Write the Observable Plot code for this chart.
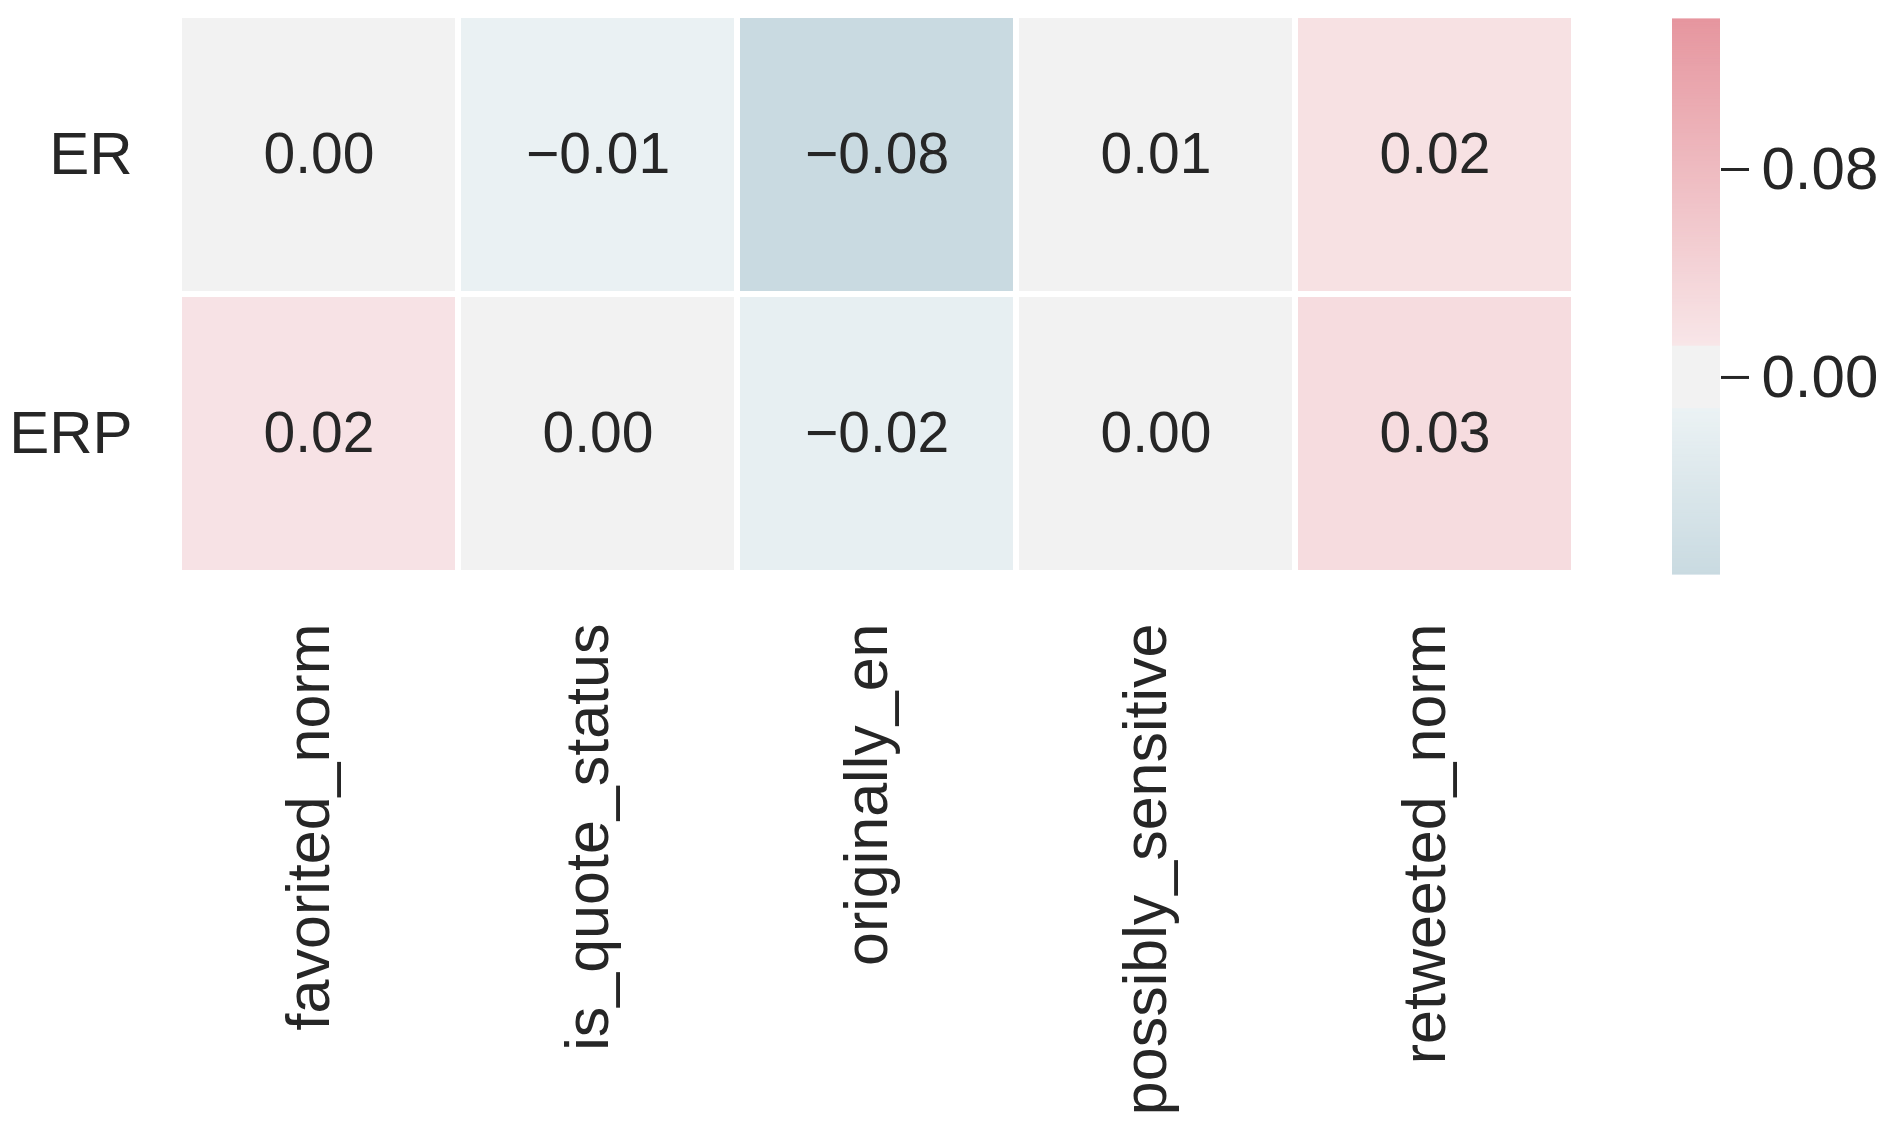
<!DOCTYPE html>
<html>
<head>
<meta charset="utf-8">
<script src="https://cdn.jsdelivr.net/npm/d3@7"></script>
<script src="https://cdn.jsdelivr.net/npm/@observablehq/plot@0.6"></script>
<style>
  html, body { margin: 0; padding: 0; background: #ffffff; }
  #wrap { position: relative; width: 1888px; height: 1131px; overflow: hidden; }
  #main, #cbar { position: absolute; top: 0; }
  #main { left: 0; }
  #cbar { left: 1672px; }
</style>
</head>
<body>
<div id="wrap"><div id="main"></div><div id="cbar"></div></div>
<script>
// ---- data ----
const rows = ["ER", "ERP"];
const columns = ["favorited_norm", "is_quote_status", "originally_en", "possibly_sensitive", "retweeted_norm"];
const erValues  = [0.001, -0.014, -0.076, 0.007, 0.020];
const erpValues = [0.018,  0.001, -0.020, 0.002, 0.028];
const colorbarTicks = [0.00, 0.08];
const colorDomain = [-0.0758, 0.1377];

const cells = [];
columns.forEach((c, i) => {
  cells.push({row: "ER", col: c, value: erValues[i]});
  cells.push({row: "ERP", col: c, value: erpValues[i]});
});

const fmt = d3.format(".2f");
const font = "'Liberation Sans', Arial, Helvetica, sans-serif";
const textColor = "#262626";

const colorScale = {
  type: "linear",
  domain: [colorDomain[0], -0.0121, -0.012, 0.012, 0.0121, colorDomain[1]],
  range: ["#c9dae1", "#ebf2f4", "#f2f2f2", "#f2f2f2", "#f8e6e8", "#e6969f"],
  interpolate: "rgb",
  clamp: true
};

const main = Plot.plot({
  width: 1888,
  height: 1131,
  marginLeft: 178,
  marginRight: 314,
  marginTop: 15,
  marginBottom: 558,
  style: {fontFamily: font, fontSize: "60px", color: textColor, background: "#ffffff"},
  x: {domain: columns, padding: 0, label: null},
  y: {domain: rows, padding: 0, label: null},
  color: colorScale,
  marks: [
    Plot.cell(cells, {x: "col", y: "row", fill: "value", inset: 3}),
    Plot.text(cells, {x: "col", y: "row", text: d => fmt(d.value), fill: textColor, fontSize: 57, fontFamily: font}),
    Plot.axisX({tickSize: 0, tickPadding: 50, tickRotate: -90, label: null, dx: -10, fontSize: 61}),
    Plot.axisY({tickSize: 0, tickPadding: 46, label: null, fontSize: 60})
  ]
});
document.getElementById("main").appendChild(main);

// ---- colorbar ----
const nBands = 240;
const step = (colorDomain[1] - colorDomain[0]) / nBands;
const bands = d3.range(nBands).map(i => ({
  y1: colorDomain[0] + i * step,
  y2: colorDomain[0] + (i + 1) * step,
  v: colorDomain[0] + (i + 0.5) * step
}));

const cbar = Plot.plot({
  width: 216,
  height: 600,
  marginLeft: 0,
  marginRight: 168,
  marginTop: 19,
  marginBottom: 26,
  style: {fontFamily: font, fontSize: "60px", color: textColor, background: "transparent", overflow: "visible"},
  x: {domain: [0, 1], axis: null},
  y: {domain: colorDomain, axis: "right", ticks: colorbarTicks, tickFormat: fmt, tickSize: 28, tickPadding: 13, label: null},
  color: colorScale,
  marks: [
    Plot.rect(bands, {x1: 0, x2: 1, y1: "y1", y2: "y2", fill: "v", insetTop: -0.6, insetBottom: -0.6})
  ]
});
cbar.querySelectorAll("[aria-label='y-axis tick']").forEach(el => {
  el.setAttribute("stroke-width", "3");
});
document.getElementById("cbar").appendChild(cbar);
</script>
</body>
</html>
